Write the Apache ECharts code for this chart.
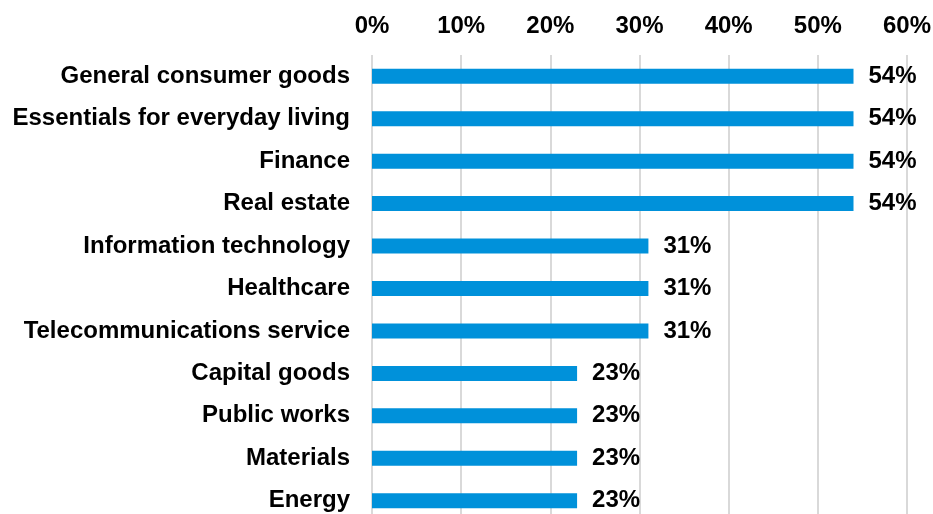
<!DOCTYPE html>
<html>
<head>
<meta charset="utf-8">
<script src="https://cdn.jsdelivr.net/npm/echarts@6/dist/echarts.min.js"></script>
<style>
  html, body { margin: 0; padding: 0; background: #fff; }
  #chart { width: 933px; height: 514px; }
</style>
</head>
<body>
<div id="chart"></div>
<script>
// Sectors, top to bottom
const categories = [
  'General consumer goods',
  'Essentials for everyday living',
  'Finance',
  'Real estate',
  'Information technology',
  'Healthcare',
  'Telecommunications service',
  'Capital goods',
  'Public works',
  'Materials',
  'Energy'
];
// Share of respondents, in percent
const values = [54, 54, 54, 54, 31, 31, 31, 23, 23, 23, 23];
// Axis ticks along the top
const tickValues = [0, 10, 20, 30, 40, 50, 60];

const FONT = 'Liberation Sans, Arial, sans-serif';
const chart = echarts.init(document.getElementById('chart'), null, { renderer: 'canvas' });

chart.setOption({
  animation: false,
  backgroundColor: '#ffffff',
  grid: {
    left: 372, right: 26, top: 55, height: 467,
    containLabel: false,
    outerBoundsMode: 'none'
  },
  xAxis: {
    type: 'value',
    position: 'top',
    min: tickValues[0],
    max: tickValues[tickValues.length - 1],
    interval: 10,
    axisLine: { show: false },
    axisTick: { show: false },
    axisLabel: {
      formatter: '{value}%',
      color: '#000',
      fontFamily: FONT,
      fontWeight: 'bold',
      fontSize: 24,
      margin: 17
    },
    splitLine: { show: true, lineStyle: { color: '#d9d9d9', width: 2 } }
  },
  yAxis: {
    type: 'category',
    data: categories,
    inverse: true,
    axisLine: { show: false },
    axisTick: { show: false },
    axisLabel: {
      color: '#000',
      fontFamily: FONT,
      fontWeight: 'bold',
      fontSize: 24,
      margin: 22
    }
  },
  series: [{
    type: 'bar',
    data: values,
    barWidth: 15,
    itemStyle: { color: '#0091da' },
    label: {
      show: true,
      position: 'right',
      distance: 15,
      formatter: '{c}%',
      color: '#000',
      fontFamily: FONT,
      fontWeight: 'bold',
      fontSize: 24
    }
  }]
});
</script>
</body>
</html>
